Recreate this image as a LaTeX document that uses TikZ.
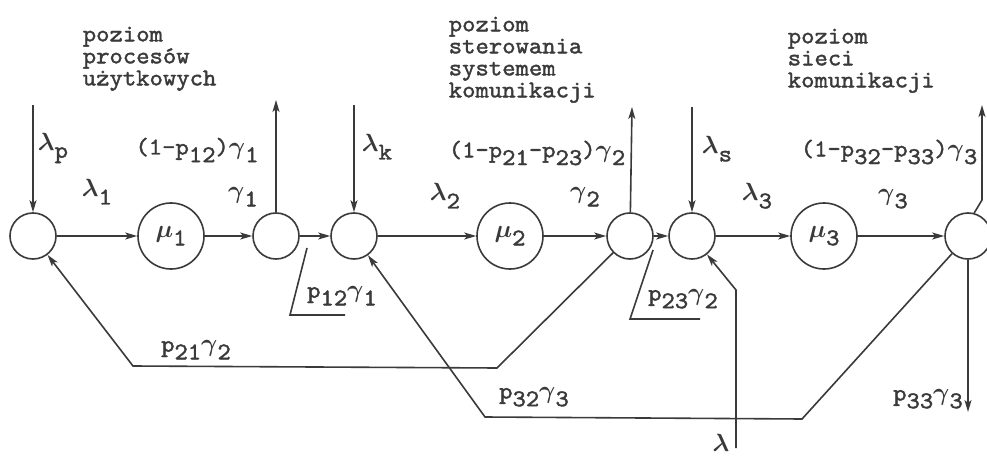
\documentclass[tikz,border=0pt]{standalone}
\usepackage{fontspec}
\usepackage{amsmath}
\usetikzlibrary{arrows.meta}
\newfontfamily\twf[FakeBold=1.6,FakeStretch=1.06]{lmmono10-regular.otf}
\newcommand\lowr[1]{\raisebox{-0.32em}{#1}}
\newcommand\glam{$\boldsymbol{\lambda}$}
\newcommand\ggam{$\boldsymbol{\gamma}$}
\newcommand\gmu{$\boldsymbol{\mu}$}
\definecolor{ink}{HTML}{3A3A3A}
\begin{document}
\begin{tikzpicture}[x=1pt,y=-1pt,
  line width=1.6pt, draw=ink,
  arr/.style={-{Stealth[length=12pt,width=7pt,inset=3pt]}},
  sm/.style={circle,draw=ink,minimum size=46pt,inner sep=0pt},
  bg/.style={circle,draw=ink,minimum size=66pt,inner sep=0pt,font=\fontsize{24}{22}\selectfont\twf,text=ink},
  lbl/.style={font=\fontsize{24}{22}\selectfont\twf, inner sep=0pt, text=ink},
  lvl/.style={lbl, align=left, anchor=north west}
]
\fill[white] (0,0) rectangle (987,457);
\useasboundingbox (0,0) rectangle (987,457);

% level labels
\node[lvl] (L1) at (82,26) {poziom\\procesów\\użytkowych};
\node[lvl] (L2) at (448,16) {poziom\\sterowania\\systemem\\komunikacji};
\node[lvl] (L3) at (787,28) {poziom\\sieci\\komunikacji};

% nodes
\node[sm] (c1) at (33,236) {};
\node[bg] (m1) at (171,236) {\gmu\lowr{1}};
\node[sm] (c2) at (276,236) {};
\node[sm] (c3) at (354,236) {};
\node[bg] (m2) at (510,236) {\gmu\lowr{2}};
\node[sm] (c4) at (630,236) {};
\node[sm] (c5) at (692,236) {};
\node[bg] (m3) at (824,236) {\gmu\lowr{3}};
\node[sm] (c6) at (968,236) {};

% forward arrows
\draw[arr] (c1) -- (m1);
\draw[arr] (m1) -- (c2);
\draw[arr] (c2) -- (c3);
\draw[arr] (c3) -- (m2);
\draw[arr] (m2) -- (c4);
\draw[arr] (c4) -- (c5);
\draw[arr] (c5) -- (m3);
\draw[arr] (m3) -- (c6);

% inputs and outputs
\coordinate (inp) at (33,105);
\coordinate (out1) at (276,100);
\coordinate (ik) at (354,105);
\coordinate (out2) at (632,107);
\coordinate (is) at (692,107);
\coordinate (r1) at (982,200);
\coordinate (r2) at (982,105);
\coordinate (p33e) at (968,412);
\draw[arr] (inp) -- (c1);
\draw[arr] (c2) -- (out1);
\draw[arr] (ik) -- (c3);
\draw[arr] (c4) -- (out2);
\draw[arr] (is) -- (c5);
\draw[arr] (c6.75) -- (r1) -- (r2);
\draw[arr] (c6) -- (p33e);

% feedback
\coordinate (a1) at (497,368);
\coordinate (a2) at (133,366);
\draw[arr] (c4) -- (a1) -- (a2) -- (c1);
\coordinate (b1) at (802,419);
\coordinate (b2) at (485,417);
\draw[arr] (c6) -- (b1) -- (b2) -- (c3);
\coordinate (lb) at (736,448);
\coordinate (lb2) at (736,290);
\draw[arr] (lb) -- (lb2) -- (c5);

% label markers
\coordinate (k1) at (307,248);
\coordinate (k2) at (290,315);
\coordinate (k3) at (345,315);
\draw (k1) -- (k2) -- (k3);
\coordinate (j1) at (653,250);
\coordinate (j2) at (630,319);
\coordinate (j3) at (700,319);
\draw (j1) -- (j2) -- (j3);

% labels
\node[lbl] (tlp) at (53,148) {\glam\lowr{p}};
\node[lbl] (t1a) at (197,150) {(1-p\lowr{12})\ggam\lowr{1}};
\node[lbl] (tl1) at (97,192) {\glam\lowr{1}};
\node[lbl] (tg1) at (243,197) {\ggam\lowr{1}};
\node[lbl] (tlk) at (377,147) {\glam\lowr{k}};
\node[lbl] (t2a) at (537,153) {(1-p\lowr{21}-p\lowr{23})\ggam\lowr{2}};
\node[lbl] (tl2) at (445,196) {\glam\lowr{2}};
\node[lbl] (tg2) at (585,197) {\ggam\lowr{2}};
\node[lbl] (tls) at (717,149) {\glam\lowr{s}};
\node[lbl] (tl3) at (757,196) {\glam\lowr{3}};
\node[lbl] (t3a) at (889,152) {(1-p\lowr{32}-p\lowr{33})\ggam\lowr{3}};
\node[lbl] (tg3) at (893,199) {\ggam\lowr{3}};
\node[lbl] (t12) at (342,296) {p\lowr{12}\ggam\lowr{1}};
\node[lbl] (t23) at (683,299) {p\lowr{23}\ggam\lowr{2}};
\node[lbl] (t21) at (196,350) {p\lowr{21}\ggam\lowr{2}};
\node[lbl] (t32) at (534,397) {p\lowr{32}\ggam\lowr{3}};
\node[lbl] (t33) at (928,399) {p\lowr{33}\ggam\lowr{3}};
\node[lbl] (tlb) at (721,443) {\glam};
\end{tikzpicture}
\end{document}
